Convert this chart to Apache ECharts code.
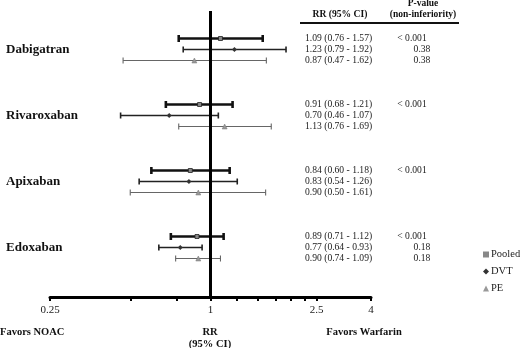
<!DOCTYPE html>
<html>
<head>
<meta charset="utf-8">
<script src="https://cdn.jsdelivr.net/npm/echarts@6/dist/echarts.min.js"></script>
<style>
  html, body { margin: 0; padding: 0; background: #fff; }
  #chart { width: 520px; height: 348px; }
</style>
</head>
<body>
<div id="chart"></div>
<script>
  const drugs = ['Dabigatran', 'Rivaroxaban', 'Apixaban', 'Edoxaban'];
  const outcomes = ['Pooled', 'DVT', 'PE'];

  const pooledRR = [1.09, 0.91, 0.84, 0.89];
  const pooledLo = [0.76, 0.68, 0.60, 0.71];
  const pooledHi = [1.57, 1.21, 1.18, 1.12];
  const pooledP = ['< 0.001', '< 0.001', '< 0.001', '< 0.001'];

  const dvtRR = [1.23, 0.70, 0.83, 0.77];
  const dvtLo = [0.79, 0.46, 0.54, 0.64];
  const dvtHi = [1.92, 1.07, 1.26, 0.93];
  const dvtP = ['0.38', '', '', '0.18'];

  const peRR = [0.87, 1.13, 0.90, 0.90];
  const peLo = [0.47, 0.76, 0.50, 0.74];
  const peHi = [1.62, 1.69, 1.61, 1.09];
  const peP = ['0.38', '', '', '0.18'];

  const tickValues = [0.25, 0.5, 0.75, 1, 1.25, 1.5, 1.75, 2, 2.25, 2.5, 4];
  const tickLabels = [0.25, 1, 2.5, 4];

  const SERIF = '"Liberation Serif", "DejaVu Serif", serif';

  // row layout: 2 blank rows on top, then 3 rows per drug with 3 blank rows between
  const rowCount = 26;
  function rowOf(g, k) { return 2 + 6 * g + k; }

  const rowNames = [];
  for (let i = 0; i < rowCount; i++) rowNames.push('r' + i);
  const rowLabel = {};
  drugs.forEach((d, g) => { rowLabel[rowOf(g, 1)] = d; });

  function buildData(k, est, lo, hi) {
    return drugs.map((d, g) => [rowOf(g, k), lo[g], hi[g], est[g]]);
  }

  const styles = [
    { line: '#111', width: 2.6, cap: 7, symbol: 'rect', fill: '#888', stroke: '#222', size: 4 },
    { line: '#222', width: 1.6, cap: 6, symbol: 'diamond', fill: '#333', stroke: '#333', size: 5 },
    { line: '#666', width: 1.1, cap: 6, symbol: 'triangle', fill: '#999', stroke: '#777', size: 5 }
  ];

  const pList = [pooledP, dvtP, peP];

  function makeRenderer(k) {
    const s = styles[k];
    return function (params, api) {
      const row = api.value(0);
      const lo = api.value(1), hi = api.value(2), est = api.value(3);
      const a = api.coord([lo, row]);
      const b = api.coord([hi, row]);
      const e = api.coord([est, row]);
      const y = a[1];
      const children = [
        { type: 'line', shape: { x1: a[0], y1: y, x2: b[0], y2: y }, style: { stroke: s.line, lineWidth: s.width } },
        { type: 'line', shape: { x1: a[0], y1: y - s.cap / 2, x2: a[0], y2: y + s.cap / 2 }, style: { stroke: s.line, lineWidth: s.width } },
        { type: 'line', shape: { x1: b[0], y1: y - s.cap / 2, x2: b[0], y2: y + s.cap / 2 }, style: { stroke: s.line, lineWidth: s.width } }
      ];
      const m = s.size;
      if (s.symbol === 'rect') {
        children.push({ type: 'rect', shape: { x: e[0] - m / 2, y: y - m / 2, width: m, height: m }, style: { fill: s.fill, stroke: s.stroke, lineWidth: 0.8 } });
      } else if (s.symbol === 'diamond') {
        children.push({ type: 'polygon', shape: { points: [[e[0], y - m / 2], [e[0] + m / 2, y], [e[0], y + m / 2], [e[0] - m / 2, y]] }, style: { fill: s.fill } });
      } else {
        children.push({ type: 'polygon', shape: { points: [[e[0], y - m / 2], [e[0] + m / 2, y + m / 2], [e[0] - m / 2, y + m / 2]] }, style: { fill: s.fill, stroke: s.stroke, lineWidth: 0.5 } });
      }
      children.push({
        type: 'text',
        style: {
          x: 305, y: y, text: est.toFixed(2) + ' (' + lo.toFixed(2) + ' - ' + hi.toFixed(2) + ')',
          font: '9.6px ' + SERIF, fill: '#222', align: 'left', verticalAlign: 'middle'
        }
      });
      const p = pList[k][params.dataIndex];
      if (p) {
        children.push({
          type: 'text',
          style: {
            x: p.charAt(0) === '<' ? 412 : 422, y: y, text: p,
            font: '9.6px ' + SERIF, fill: '#222', align: 'center', verticalAlign: 'middle'
          }
        });
      }
      return { type: 'group', children: children };
    };
  }

  const seriesData = [
    buildData(0, pooledRR, pooledLo, pooledHi),
    buildData(1, dvtRR, dvtLo, dvtHi),
    buildData(2, peRR, peLo, peHi)
  ];

  const series = outcomes.map((name, k) => ({
    name: name,
    type: 'custom',
    renderItem: makeRenderer(k),
    encode: { x: [1, 2, 3], y: 0 },
    itemStyle: { color: styles[k].fill },
    clip: false,
    data: seriesData[k]
  }));

  series[0].markLine = {
    silent: true,
    symbol: 'none',
    label: { show: false },
    lineStyle: { color: '#000', width: 3, type: 'solid' },
    data: [{ xAxis: 1 }]
  };

  const option = {
    backgroundColor: '#fff',
    animation: false,
    grid: { left: 50, right: 149, top: 11, height: 286 },
    legend: {
      orient: 'vertical',
      left: 478,
      top: 244,
      itemWidth: 6,
      itemHeight: 6,
      itemGap: 6,
      textStyle: { fontFamily: SERIF, fontSize: 10.5, color: '#222', padding: [0, 0, 0, -3] },
      data: [
        { name: 'Pooled', icon: 'rect' },
        { name: 'DVT', icon: 'diamond' },
        { name: 'PE', icon: 'triangle' }
      ]
    },
    xAxis: {
      type: 'log',
      logBase: 2,
      min: 0.25,
      max: 4,
      splitLine: { show: false },
      axisLine: { show: true, onZero: false, lineStyle: { color: '#000', width: 3 } },
      axisTick: { show: true, customValues: tickValues, length: 4, lineStyle: { color: '#000', width: 2 } },
      axisLabel: {
        customValues: tickLabels,
        margin: 8,
        fontFamily: SERIF,
        fontSize: 11,
        color: '#222'
      },
      minorTick: { show: false }
    },
    yAxis: {
      type: 'category',
      inverse: true,
      data: rowNames,
      axisLine: { show: false },
      axisTick: { show: false },
      splitLine: { show: false },
      axisLabel: {
        interval: 0,
        align: 'left',
        margin: 44,
        fontFamily: SERIF,
        fontWeight: 'bold',
        fontSize: 13,
        color: '#111',
        formatter: function (v, i) { return rowLabel[i] || ''; }
      }
    },
    graphic: [
      { type: 'text', x: 340, y: 15, style: { text: 'RR (95% CI)', font: 'bold 9.6px ' + SERIF, fill: '#111', align: 'center', verticalAlign: 'middle' } },
      { type: 'text', x: 423, y: 4, style: { text: 'P-value', font: 'bold 9.5px ' + SERIF, fill: '#111', align: 'center', verticalAlign: 'middle' } },
      { type: 'text', x: 423, y: 15, style: { text: '(non-inferiority)', font: 'bold 9.5px ' + SERIF, fill: '#111', align: 'center', verticalAlign: 'middle' } },
      { type: 'line', shape: { x1: 300, y1: 23, x2: 459, y2: 23 }, style: { stroke: '#111', lineWidth: 2 } },
      { type: 'text', x: 0, y: 332, style: { text: 'Favors NOAC', font: 'bold 10.5px ' + SERIF, fill: '#111', align: 'left', verticalAlign: 'middle' } },
      { type: 'text', x: 210, y: 332, style: { text: 'RR', font: 'bold 10.5px ' + SERIF, fill: '#111', align: 'center', verticalAlign: 'middle' } },
      { type: 'text', x: 210, y: 344, style: { text: '(95% CI)', font: 'bold 10.5px ' + SERIF, fill: '#111', align: 'center', verticalAlign: 'middle' } },
      { type: 'text', x: 364, y: 332, style: { text: 'Favors Warfarin', font: 'bold 10.5px ' + SERIF, fill: '#111', align: 'center', verticalAlign: 'middle' } }
    ],
    series: series
  };

  const chart = echarts.init(document.getElementById('chart'));
  chart.setOption(option);
</script>
</body>
</html>
